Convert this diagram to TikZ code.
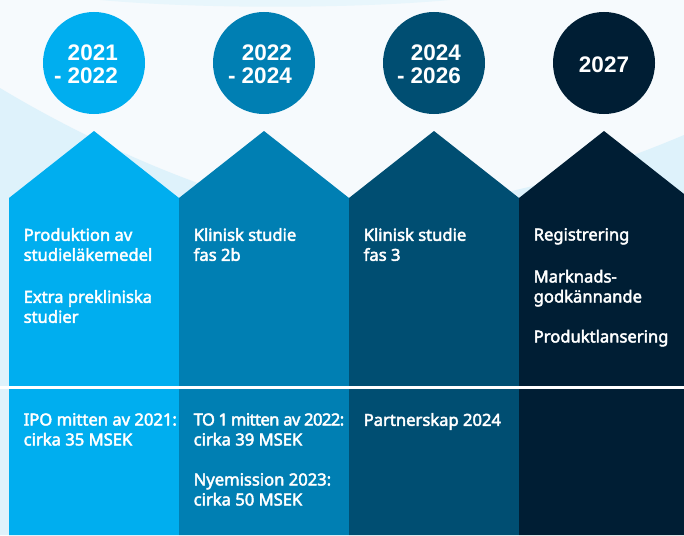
\documentclass[tikz,border=0pt]{standalone}
\usepackage{fontspec}
\setmainfont{Noto Sans}
\newfontfamily\medfont{Noto Sans}[FakeBold=2.6]
\newfontfamily\heavyfont{Liberation Sans}
\usetikzlibrary{positioning}

\definecolor{phaseA}{RGB}{0,174,239}
\definecolor{phaseB}{RGB}{0,127,179}
\definecolor{phaseC}{RGB}{0,78,114}
\definecolor{phaseD}{RGB}{0,30,52}
\definecolor{bgpale}{RGB}{246,250,253}
\definecolor{bgblue}{RGB}{222,242,251}

\begin{document}
\begin{tikzpicture}[x=1pt,y=-1pt,node distance=170pt,
				year node/.style = {circle, inner sep = 0pt, minimum size = 102pt},
				year text/.style = {inner sep = 0pt, text=white, align=right, font=\heavyfont\bfseries\fontsize{22.5}{23}\selectfont},
				phase text/.style = {anchor=north west, inner sep = 0pt, text=white, align=left, font=\medfont\fontsize{16.6}{20}\selectfont}]
				\useasboundingbox (0,0) rectangle (684,535);
				
				% background
				\fill[bgpale] (0,0) rectangle (684,535);
				\fill[bgblue!70] (100,0) .. controls (200,9) and (350,9) .. (450,0) -- cycle;
				\fill[bgblue] (0,88) .. controls (120,160) and (260,215) .. (380,228) -- (380,535) -- (0,535) -- cycle;
				\fill[bgblue] (684,135) .. controls (620,162) and (560,182) .. (470,200) -- (684,200) -- cycle;
				
				% phases
				\fill[phaseA] (9,198) -- (94,131) -- (179,198) -- (179,535) -- (9,535) -- cycle;
				\fill[phaseB] (179,198) -- (264,131) -- (349,198) -- (349,535) -- (179,535) -- cycle;
				\fill[phaseC] (349,198) -- (434,131) -- (519,198) -- (519,535) -- (349,535) -- cycle;
				\fill[phaseD] (519,198) -- (604,131) -- (684,194) -- (684,535) -- (519,535) -- cycle;
				\fill[white] (0,385.5) rectangle (684,388.5);
				
				\node[year node,fill=phaseA] at (94,63) (1) {};
				\node[year node,fill=phaseB] [right of = 1](2) {};
				\node[year node,fill=phaseC] [right of = 2](3) {};
				\node[year node,fill=phaseD] [right of = 3](4) {};
				
				\node[year text,anchor=east] at ([xshift=24pt,yshift=-1pt]1.center) (31) {2021\\- 2022};
				\node[year text,anchor=east] at ([xshift=28pt,yshift=-1pt]2.center) (32) {2022\\- 2024};
				\node[year text,anchor=east] at ([xshift=27pt,yshift=-1pt]3.center) (33) {2024\\- 2026};
				\node[year text] at ([yshift=-2pt]4.center) (34) {2027};
				
				\node[phase text] at (23.5,228) (11) {Produktion av\\studieläkemedel\\[22pt]Extra prekliniska\\studier};
				\node[phase text] at (193.5,228) (12) {Klinisk studie\\fas 2b};
				\node[phase text] at (363.5,228) (13) {Klinisk studie\\fas 3};
				\node[phase text] at (533.5,228) (14) {Registrering\\[22pt]Marknads-\\godkännande\\[20pt]Produktlansering};
				
				\node[phase text] at (23.5,413) (21) {IPO mitten av 2021:\\cirka 35 MSEK};
				\node[phase text] at (193.5,413) (22) {{\addfontfeature{LetterSpace=-3.5}TO\kern3.5pt 1\kern3pt mitten av 2022:}\\cirka 39 MSEK\\[20pt]Nyemission 2023:\\cirka 50 MSEK};
				\node[phase text] at (363.5,413) (23) {Partnerskap 2024};
				\end{tikzpicture}
\end{document}
